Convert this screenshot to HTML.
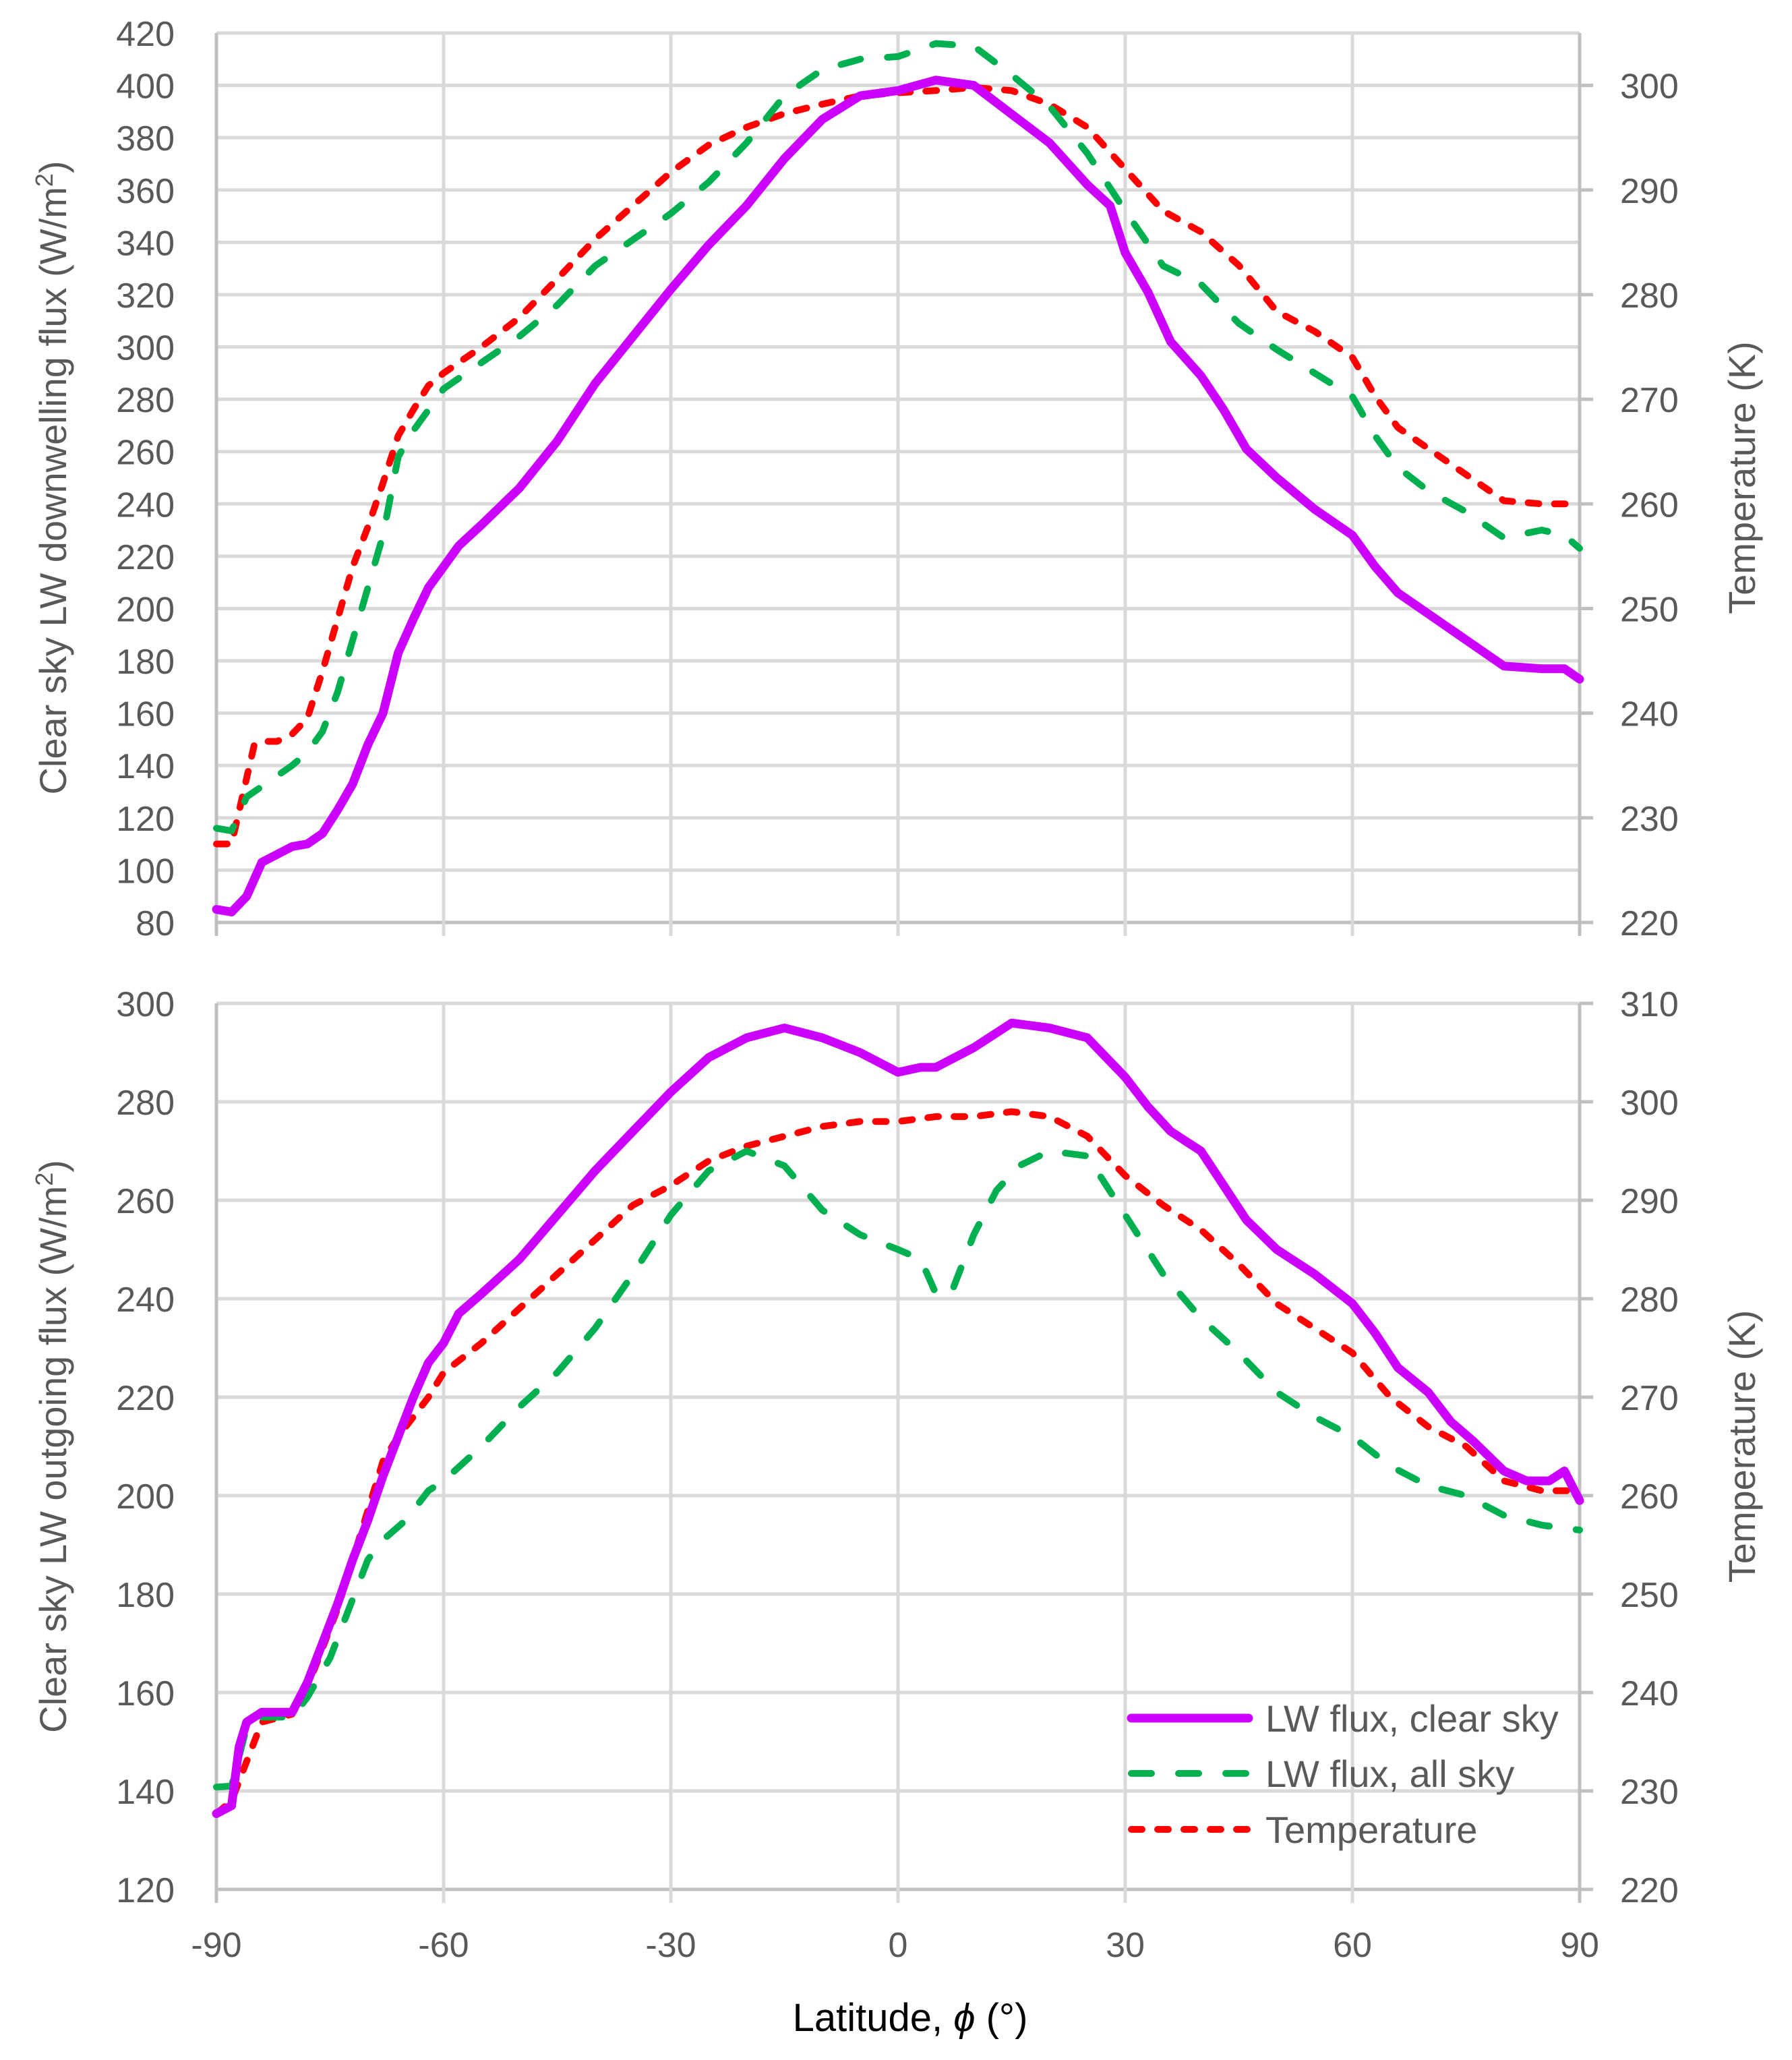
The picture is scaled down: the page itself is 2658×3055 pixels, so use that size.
<!DOCTYPE html>
<html><head><meta charset="utf-8"><style>
html,body{margin:0;padding:0;background:#fff;}
svg{display:block;font-family:"Liberation Sans",sans-serif;}
</style></head><body>
<svg id="c" width="2658" height="3055" viewBox="0 0 2658 3055" xmlns="http://www.w3.org/2000/svg"></svg>
<script>
const NS="http://www.w3.org/2000/svg";
// ---- data ----
const topClearLat=[-90,-88,-86,-84,-82,-80,-78,-76,-74,-72,-70,-68,-66,-64,-62,-60,-58,-55,-50,-45,-40,-35,-30,-25,-20,-15,-10,-5,0,5,10,15,20,25,28,30,33,36,40,43,46,50,55,60,63,66,70,75,80,85,88,90];
const topClearVal=[85,84,90,103,106,109,110,114,123,133,148,160,183,196,208,216,224,232,246,264,286,304,322,339,354,372,387,396,398,402,400,389,378,362,354,336,321,302,289,276,261,250,238,228,216,206,198,188,178,177,177,173];
const topAllLat=[-90,-88,-86,-84,-80,-78,-76,-74,-72,-70,-68,-66,-64,-60,-55,-50,-45,-40,-35,-30,-25,-20,-15,-10,-5,0,5,10,15,20,25,30,35,40,45,50,55,60,63,66,70,75,80,85,88,90];
const topAllVal=[116,115,128,132,140,145,153,168,188,208,228,258,268,284,294,304,316,331,341,351,363,378,396,406,410,411,416,415,404,392,374,352,331,324,309,299,290,281,266,254,245,237,227,230,228,223];
const topTempLat=[-90,-88,-85,-84,-82,-80,-78,-76,-74,-72,-70,-68,-66,-64,-62,-60,-55,-50,-45,-40,-35,-30,-25,-20,-15,-10,-5,0,5,10,15,20,25,30,35,40,45,50,55,60,63,66,70,75,80,85,90];
const topTempVal=[227.5,227.5,237,237.3,237.3,238,239.5,244,249,254,257.8,262,266.5,269,271.3,272.5,275,277.8,281.5,285.3,288.5,291.7,294.3,296,297.3,298.2,299,299.3,299.5,299.8,299.5,298.2,296,292,288,286,282.8,278.4,276.5,274,270.3,267.3,265.3,262.8,260.3,260,260];
const botClearLat=[-90,-88,-87,-86,-84,-80,-78,-76,-74,-72,-70,-68,-66,-64,-62,-60,-58,-55,-50,-45,-40,-35,-30,-25,-20,-15,-10,-5,0,3,5,10,15,20,25,30,33,36,40,43,46,50,55,60,63,66,70,73,76,80,83,86,88,90];
const botClearVal=[135.4,137,149,154,156,156,162,170,178,187,195,204,212,220,227,231,237,241,248,257,266,274,282,289,293,295,293,290,286,287,287,291,296,295,293,285,279,274,270,263,256,250,245,239,233,226,221,215,211,205,203,203,205,199];
const botAllLat=[-90,-88,-86,-84,-80,-78,-75,-72,-70,-68,-65,-62,-60,-55,-50,-45,-40,-35,-30,-25,-20,-15,-10,-5,0,3,5,7,10,13,16,20,25,30,35,40,45,50,55,60,65,70,75,80,85,90];
const botAllVal=[140.8,141,153,155,155,159,167,179,187,191,195,201,203,210,218,225,234,245,257,266,270,267,258,253,250,248,241,241,253,262,267,270,269,257,245,236,229,221,216,212,206,202,200,196,194,193];
const botTempLat=[-90,-88,-86,-84,-80,-78,-76,-74,-72,-70,-68,-66,-64,-62,-60,-55,-50,-45,-40,-35,-30,-25,-20,-15,-10,-5,0,5,10,15,20,25,30,35,40,45,50,55,60,65,70,75,80,85,90];
const botTempVal=[227.7,229,233,237,237.8,240.5,244.5,248.5,253.5,258.5,263.5,266,268,270,272.5,275.5,279,282.5,286,289.5,291.5,294,295.5,296.5,297.5,298,298,298.5,298.5,299,298.5,296.5,292.5,289.5,287,283.5,279.5,277,274.5,270,267,265,261.5,260.5,260.5];
const xTicks=[-90,-60,-30,0,30,60,90];
const topLeftTicks=[80,100,120,140,160,180,200,220,240,260,280,300,320,340,360,380,400,420];
const topRightTicks=[220,230,240,250,260,270,280,290,300];
const botLeftTicks=[120,140,160,180,200,220,240,260,280,300];
const botRightTicks=[220,230,240,250,260,270,280,290,300,310];

const svg=document.getElementById('c');
function mk(tag,attrs,parent){const e=document.createElementNS(NS,tag);for(const k in attrs)e.setAttribute(k,attrs[k]);(parent||svg).appendChild(e);return e;}
const X0=321,X1=2343;
const xs=v=>X0+(v+90)/180*(X1-X0);
function panel(id,yT,yB,lmin,lmax,rmin,rmax,lt,rt,clear,all,temp,ytitle,showX){
  const g=mk('g',{});
  
  
  const yl=v=>yB-(v-lmin)/(lmax-lmin)*(yB-yT);
  const yr=v=>yB-(v-rmin)/(rmax-rmin)*(yB-yT);
  lt.forEach(v=>{
    const l=mk('line',{x1:X0,x2:X1,y1:yl(v),y2:yl(v),stroke:v===lmin?'#bfbfbf':'#d9d9d9','stroke-width':5},g);
    
    
    const t=mk('text',{x:259,y:yl(v)+19,'text-anchor':'end','font-size':52,fill:'#595959'},g);
    t.textContent=v;
    
    
  });
  xTicks.forEach(v=>{
    const l=mk('line',{x1:xs(v),x2:xs(v),y1:yT,y2:yB+20,stroke:(v===-90||v===90)?'#bfbfbf':'#d9d9d9','stroke-width':5},g);
    
    
  });
  rt.forEach(v=>{
    const l=mk('line',{x1:X1,x2:X1+20,y1:yr(v),y2:yr(v),stroke:'#bfbfbf','stroke-width':5},g);
    
    
    const t=mk('text',{x:2403,y:yr(v)+19,'font-size':52,fill:'#595959'},g);
    t.textContent=v;
    
    
  });
  if(showX){
    xTicks.forEach(v=>{
      const t=mk('text',{x:xs(v),y:yB+100,'text-anchor':'middle','font-size':52,fill:'#595959'},g);
      t.textContent=v;
      
      
    });
  }
  function line(lat,val,sc,color,w,dash,name){
    const pts=lat.map((a,i)=>xs(a).toFixed(1)+','+sc(val[i]).toFixed(1)).join(' ');
    const p=mk('polyline',{points:pts,fill:'none',stroke:color,'stroke-width':w,'stroke-linejoin':'round','stroke-linecap':'round'},g);
    if(dash)p.setAttribute('stroke-dasharray',dash);
    
    
  }
  line(temp[0],temp[1],yr,'#ff0000',10,'16 23',id+'-temperature-line');
  line(all[0],all[1],yl,'#00b050',10,'30 40',id+'-all-sky-line');
  line(clear[0],clear[1],yl,'#cc00ff',13,null,id+'-clear-sky-line');
  const cy=(yT+yB)/2;
  const t1=mk('text',{x:0,y:0,'font-size':56,fill:'#595959','text-anchor':'middle',transform:`translate(98 ${cy}) rotate(-90)`},g);
  t1.innerHTML=ytitle+' (W/m<tspan dy="-20" font-size="36">2</tspan><tspan dy="20">)</tspan>';
  
  
  const t2=mk('text',{x:0,y:0,'font-size':56,fill:'#595959','text-anchor':'middle',transform:`translate(2603 ${cy}) rotate(-90)`},g);
  t2.textContent='Temperature (K)';
  
  
}
panel('top',49,1368,80,420,220,305,topLeftTicks,topRightTicks,[topClearLat,topClearVal],[topAllLat,topAllVal],[topTempLat,topTempVal],'Clear sky LW downwelling flux',false);
panel('bottom',1488,2802,120,300,220,310,botLeftTicks,botRightTicks,[botClearLat,botClearVal],[botAllLat,botAllVal],[botTempLat,botTempVal],'Clear sky LW outgoing flux',true);

const xt=mk('text',{x:1350,y:3012,'text-anchor':'middle','font-size':58,fill:'#000'});
xt.innerHTML='Latitude, <tspan font-style="italic">ϕ</tspan> (°)';



const leg=mk('g',{});


const legItems=[['LW flux, clear sky','#cc00ff',13,null,2548],['LW flux, all sky','#00b050',10,'30 40',2630],['Temperature','#ff0000',10,'16 23',2713]];
legItems.forEach(it=>{
  const l=mk('line',{x1:1678,x2:1852,y1:it[4],y2:it[4],stroke:it[1],'stroke-width':it[2],'stroke-linecap':'round'},leg);
  if(it[3])l.setAttribute('stroke-dasharray',it[3]);
  
  
  const t=mk('text',{x:1877,y:it[4]+20,'font-size':56,fill:'#595959'},leg);
  t.textContent=it[0];
  
  
});
</script>
</body></html>
